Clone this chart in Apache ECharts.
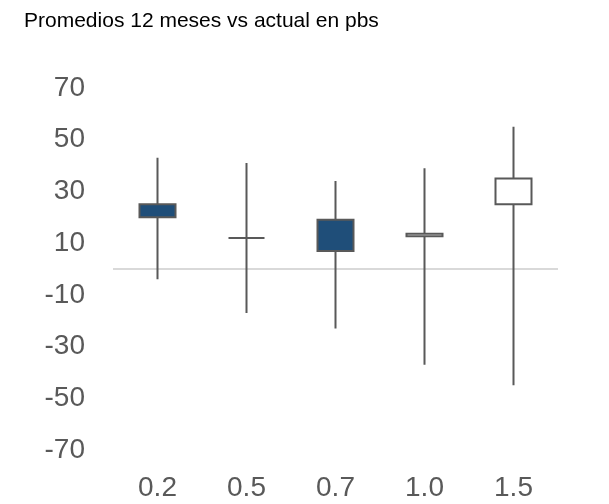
<!DOCTYPE html>
<html>
<head>
<meta charset="utf-8">
<script src="https://cdn.jsdelivr.net/npm/echarts@6/dist/echarts.min.js"></script>
<style>
  html, body { margin: 0; padding: 0; background: #fff; }
  #chart { width: 609px; height: 504px; }
</style>
</head>
<body>
<div id="chart"></div>
<script>
// plazos (eje x)
var categories = ['0.2', '0.5', '0.7', '1.0', '1.5']
// [apertura, cierre, minimo, maximo] en pbs
var openVals = [25, 12, 19, 12.7, 25]
var closeVals = [20, 12, 7, 13.6, 35]
var lowVals = [-4, -17, -23, -37, -45]
var highVals = [43, 41, 34, 39, 55]
var yTicks = [-70, -50, -30, -10, 10, 30, 50, 70]

var candles = categories.map(function (c, i) {
  return [openVals[i], closeVals[i], lowVals[i], highVals[i]]
})

var myChart = echarts.init(document.getElementById('chart'))
var option = {
  animation: false,
  title: {
    text: 'Promedios 12 meses vs actual en pbs',
    left: 19,
    top: 6,
    textStyle: {
      fontFamily: 'Liberation Sans, Arial',
      fontSize: 21,
      fontWeight: 'normal',
      color: '#000'
    }
  },
  grid: {
    left: 113,
    right: 51,
    top: 88,
    bottom: 54,
    outerBoundsMode: 'none'
  },
  xAxis: {
    type: 'category',
    data: categories,
    axisLine: { show: false },
    axisTick: { show: false },
    axisLabel: {
      fontFamily: 'Liberation Sans, Arial',
      fontSize: 28,
      color: '#595959',
      margin: 24
    }
  },
  yAxis: {
    type: 'value',
    min: -70,
    max: 70,
    splitLine: { show: false },
    axisLine: { show: false },
    axisTick: { show: false },
    axisLabel: {
      customValues: yTicks,
      fontFamily: 'Liberation Sans, Arial',
      fontSize: 28,
      color: '#595959',
      margin: 28
    }
  },
  series: [
    {
      type: 'candlestick',
      data: candles,
      barWidth: 37,
      itemStyle: {
        color: '#ffffff',
        color0: '#1f4e79',
        borderColor: '#595959',
        borderColor0: '#595959',
        borderColorDoji: '#595959',
        borderWidth: 2
      },
      markLine: {
        silent: true,
        symbol: 'none',
        label: { show: false },
        lineStyle: { color: '#d9d9d9', width: 2, type: 'solid' },
        data: [{ yAxis: 0 }],
        z: 1
      }
    }
  ]
}
myChart.setOption(option)
</script>
</body>
</html>
